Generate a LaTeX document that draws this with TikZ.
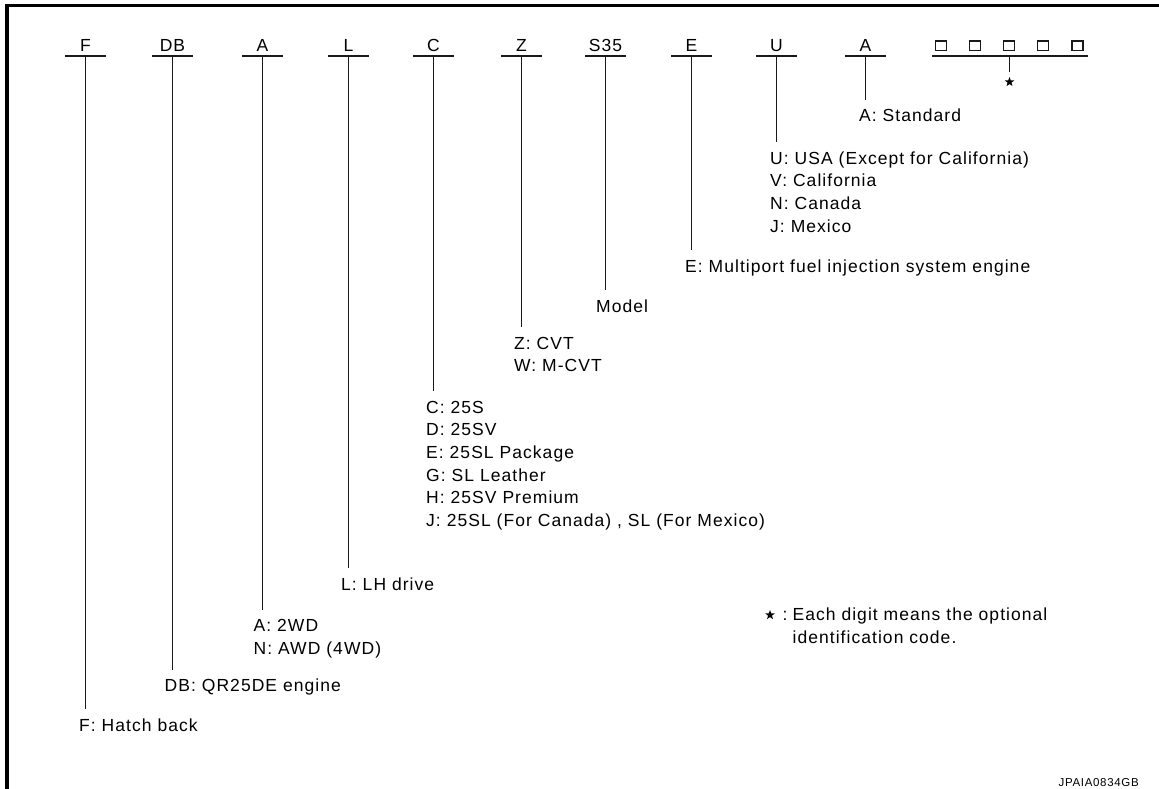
\documentclass[tikz,border=0pt]{standalone}
\usepackage{fontspec}
\setmainfont{Liberation Sans}[LetterSpace=6]
\usetikzlibrary{shapes.geometric}
\begin{document}
\begin{tikzpicture}[x=1pt,y=-1pt,
  txt/.style={inner sep=0, font=\fontsize{17.5}{22.6}\selectfont},
  lbl/.style={txt, anchor=base west, align=left},
  hdr/.style={txt, anchor=base},
  conn/.style={line width=1.4pt, draw=black!90},
  uline/.style={line width=1.4pt, draw=black!90},
  sq/.style={draw=black!90, line width=1.2pt, minimum width=11pt, minimum height=9.5pt, inner sep=0},
  starmark/.style={star, star points=5, star point ratio=2.4, fill=black, minimum size=10pt, inner sep=0}]
\useasboundingbox (0,0) rectangle (1159,789);
\draw[line width=3.5pt, line join=miter] (7,800) -- (7,5.7) -- (1170,5.7);
% columns (name / x / header / first label baseline)
\foreach \n/\x/\t/\b in {F/85.5/F/731, DB/172.5/DB/691.7, A/262.5/A/631.7, L/348.5/L/590, C/433.5/C/413.3, Z/521.5/Z/349, S/605.5/S35/312.3, E/691.5/E/272.3, U/776.5/U/164.3, AA/865.5/A/121.7}{
  \node[hdr] (h\n) at (\x,52) {\t};
  \coordinate (u\n) at (\x,56);
  \coordinate (e\n) at (\x,\b-22);
  \draw[uline] ([xshift=-20.5pt]u\n) -- ([xshift=20.5pt]u\n);
  \draw[conn] (u\n) -- (e\n);
}
% labels (anchor = baseline of last line)
\node[lbl] (lF) at (79,731) {F: Hatch back};
\node[lbl] (lDB) at (164.5,691.7) {DB: QR25DE engine};
\node[lbl] (lA) at (253.5,654.3) {A: 2WD\\N: AWD (4WD)};
\node[lbl] (lL) at (341,590) {L: LH drive};
\node[lbl] (lC) at (426,526.3) {C: 25S\\D: 25SV\\E: 25SL Package\\G: SL Leather\\H: 25SV Premium\\J: 25SL (For Canada) , SL (For Mexico)};
\node[lbl] (lZ) at (514,371.6) {Z: CVT\\W: M-CVT};
\node[lbl] (lS) at (596,312.3) {Model};
\node[lbl] (lE) at (685,272.3) {E: Multiport fuel injection system engine};
\node[lbl] (lU) at (770,232.1) {U: USA (Except for California)\\V: California\\N: Canada\\J: Mexico};
\node[lbl] (lAA) at (859,121.7) {A: Standard};
% optional code squares
\foreach \i/\x in {1/940.8, 2/975.2, 3/1008.8, 4/1042.7, 5/1077.5}{
  \node[sq] (sq\i) at (\x,45.8) {};
}
\coordinate (uOL) at (931.7,56);
\coordinate (uOR) at (1088.3,56);
\draw[uline] (uOL) -- (uOR);
\coordinate (uO) at (1009.5,56);
\coordinate (tO) at (1009.5,71.7);
\node[starmark] (st1) at (1009.5,82) {};
\draw[conn] (uO) -- (tO);
% note
\node[starmark] (st2) at (770,615) {};
\node[lbl] (note) at (782.5,643.3) {:\hspace{5pt}Each digit means the optional\\\hphantom{:\hspace{5pt}}identification code.};
\node[txt, anchor=base east, font=\fontsize{11.5}{13}\selectfont] (ref) at (1139,786.5) {JPAIA0834GB};
\end{tikzpicture}
\end{document}
